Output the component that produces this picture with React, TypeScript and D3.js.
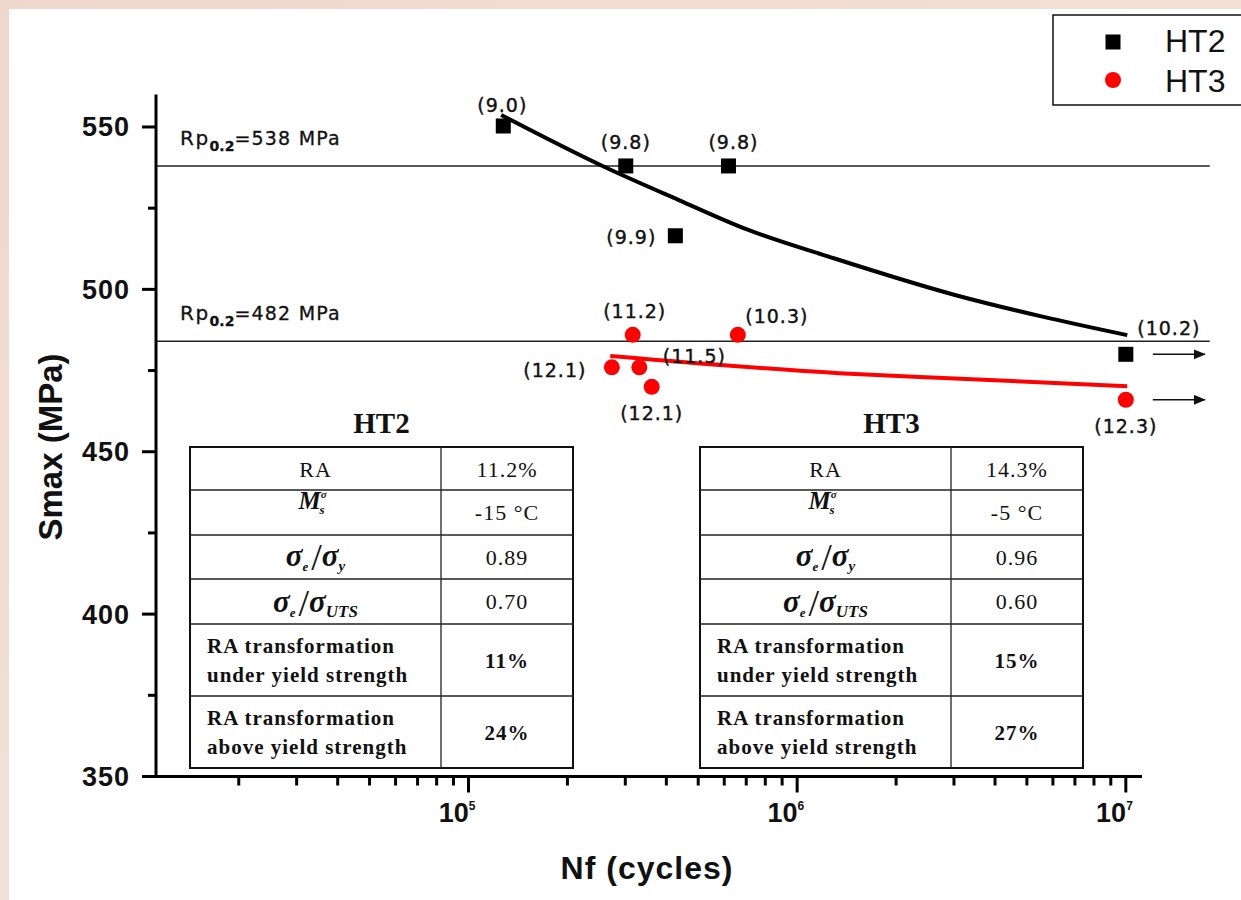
import React from 'react';
import * as d3 from 'd3';

const W = 1241;
const H = 900;

// HT2 test points (Nf, Smax) and their labels
const ht2Cycles = [1.276e5, 3.01e5, 6.18e5, 4.26e5, 1.0e7];
const ht2Stress = [550.3, 538, 538, 516.5, 480];
const ht2Labels = ['(9.0)', '(9.8)', '(9.8)', '(9.9)', '(10.2)'];

// HT3 test points
const ht3Cycles = [3.16e5, 6.6e5, 2.73e5, 3.31e5, 3.61e5, 1.0e7];
const ht3Stress = [486, 486, 476, 476, 470, 466];
const ht3Labels = ['(11.2)', '(10.3)', '(12.1)', '(11.5)', '(12.1)', '(12.3)'];

// fitted curves
const ht2FitCycles = [1.257e5, 2.605e5, 4.365e5, 7.1e5, 1.3e6, 3.04e6, 5.58e6, 1.01e7];
const ht2FitStress = [553.7, 537.6, 527.5, 518.3, 509.5, 498.2, 491.6, 485.9];
const ht3FitCycles = [2.7e5, 1.34e6, 2.9e6, 1.01e7];
const ht3FitStress = [479.5, 474.2, 472.6, 470.2];

// yield strength lines
const yieldStress = [538, 484];
const yieldLabels = ['=538 MPa', '=482 MPa'];

// axes
const yTicks = [350, 400, 450, 500, 550];
const yMinorTicks = [375, 425, 475, 525];
const xTicks = [1e5, 1e6, 1e7];
const xTickExp = ['5', '6', '7'];
const runoutCycles = 1e7;

// tables
const tableRowLabels = ['RA', 'Ms', 'se/sy', 'se/sUTS', 'RA transformation|under yield strength', 'RA transformation|above yield strength'];
const ht2TableValues = ['11.2%', '-15 °C', '0.89', '0.70', '11%', '24%'];
const ht3TableValues = ['14.3%', '-5 °C', '0.96', '0.60', '15%', '27%'];

// label offsets (px) from each point
const ht2LabelOffsets = [[-1, -21], [0, -24], [5, -24], [-44, 1], [43, -26]];
const ht3LabelOffsets = [[2, -24], [39, -19], [-57, 3], [55, -11], [0, 26], [0, 26]];

const sans = "'Liberation Sans', Arial, Helvetica, sans-serif";
const narrow = "'Liberation Sans Narrow', 'Arial Narrow', 'Liberation Sans', Arial, sans-serif";
const verdana = "'DejaVu Sans', Verdana, sans-serif";
const serif = "'Liberation Serif', 'Times New Roman', Times, serif";

const x = d3.scaleLog().domain([1.12e4, 1.12e7]).range([156, 1142]);
const y = d3.scaleLinear().domain([350, 560]).range([776.5, 94.5]);

const rowHeights = [43, 45, 44, 45, 72, 72];
const colWidths = [251, 132];

const Ratio = ({ cx, by, sub }: { cx: number; by: number; sub: string }) => (
  <text x={cx} y={by} textAnchor="middle" fontFamily={serif} fill="#111">
    <tspan fontSize={31} fontStyle="italic" fontWeight="bold">σ</tspan>
    <tspan fontSize={13} fontStyle="italic" fontWeight="bold" dy={5}>e</tspan>
    <tspan fontSize={38} dy={-1} dx={3}>/</tspan>
    <tspan fontSize={31} fontStyle="italic" fontWeight="bold" dy={-4}>σ</tspan>
    <tspan fontSize={sub.length > 1 ? 17 : 15} fontStyle="italic" fontWeight="bold" dy={5}>{sub}</tspan>
  </text>
);

const PropTable = ({ left, top, title, values }: { left: number; top: number; title: string; values: string[] }) => {
  const tops = rowHeights.reduce((acc, h) => [...acc, acc[acc.length - 1] + h], [top]);
  const width = colWidths[0] + colWidths[1];
  const total = tops[tops.length - 1] - top;
  const cx0 = left + colWidths[0] / 2;
  const cx1 = left + colWidths[0] + colWidths[1] / 2;
  return (
    <g>
      <text x={left + width / 2} y={top - 14} textAnchor="middle" fontFamily={serif} fontWeight="bold" fontSize={29} fill="#111">{title}</text>
      <rect x={left} y={top} width={width} height={total} fill="#fff" stroke="#111" strokeWidth={2} />
      {tops.slice(1, -1).map((t, i) => (
        <line key={i} x1={left} x2={left + width} y1={t} y2={t} stroke="#222" strokeWidth={1.3} />
      ))}
      <line x1={left + colWidths[0]} x2={left + colWidths[0]} y1={top} y2={top + total} stroke="#222" strokeWidth={1.3} />
      {tableRowLabels.map((lab, i) => {
        const t = tops[i];
        const bold = i >= 4;
        let cell;
        if (i === 0) {
          cell = <text x={cx0} y={t + 30} textAnchor="middle" fontFamily={serif} fontSize={22} letterSpacing={1} fill="#111">{lab}</text>;
        } else if (i === 1) {
          cell = (
            <text x={cx0 - 3} y={t + 19} fontFamily={serif} fill="#111" textAnchor="middle">
              <tspan fontSize={25} fontStyle="italic" fontWeight="bold">M</tspan>
              <tspan fontSize={11} fontStyle="italic" fontWeight="bold" dy={-11}>σ</tspan>
              <tspan fontSize={13} fontStyle="italic" fontWeight="bold" dx={-7} dy={16}>s</tspan>
            </text>
          );
        } else if (i === 2) {
          cell = <Ratio cx={cx0} by={t + 31} sub="y" />;
        } else if (i === 3) {
          cell = <Ratio cx={cx0} by={t + 33} sub="UTS" />;
        } else {
          const [l1, l2] = lab.split('|');
          cell = (
            <text fontFamily={serif} fontSize={21} fontWeight="bold" letterSpacing={1} fill="#111">
              <tspan x={left + 17} y={t + 29}>{l1}</tspan>
              <tspan x={left + 17} y={t + 57.5}>{l2}</tspan>
            </text>
          );
        }
        const vy = i < 4 ? t + 30 : t + 44;
        return (
          <g key={i}>
            {cell}
            <text x={cx1} y={vy} textAnchor="middle" fontFamily={serif} fontSize={bold ? 21 : 22}
              fontWeight={bold ? 'bold' : 'normal'} letterSpacing={1} fill="#111">{values[i]}</text>
          </g>
        );
      })}
    </g>
  );
};

const App = () => {
  const ht2Fit = d3.line<number>()
    .x((d) => x(d))
    .y((_, i) => y(ht2FitStress[i]))
    .curve(d3.curveMonotoneX)(ht2FitCycles);
  const ht3Fit = d3.line<number>()
    .x((d) => x(d))
    .y((_, i) => y(ht3FitStress[i]))
    .curve(d3.curveMonotoneX)(ht3FitCycles);

  const minorX = x.ticks().filter((v) => Math.abs(Math.log10(v) - Math.round(Math.log10(v))) > 1e-6);
  const [x0, x1] = x.range();
  const [yb, yt] = y.range();
  const lineEnd = x(1.8e7);

  const arrowsAt = [
    ...ht2Cycles.map((c, i) => (c >= runoutCycles ? ht2Stress[i] : null)),
    ...ht3Cycles.map((c, i) => (c >= runoutCycles ? ht3Stress[i] : null)),
  ].filter((v) => v !== null) as number[];

  const labelStyle = {
    textAnchor: 'middle' as const,
    dominantBaseline: 'central' as const,
    fontFamily: verdana,
    fontSize: 19,
    letterSpacing: 1,
    fill: '#111',
    stroke: '#111',
    strokeWidth: 0.4,
  };

  return (
    <svg width={W} height={H} viewBox={`0 0 ${W} ${H}`} style={{ position: 'absolute', left: 0, top: 0, display: 'block' }}>
      <defs>
        <marker id="arr" viewBox="0 0 12 10" refX={11} refY={5} markerWidth={12} markerHeight={10} markerUnits="userSpaceOnUse" orient="auto">
          <path d="M0,0 L12,5 L0,10 Z" fill="#111" />
        </marker>
        <linearGradient id="bg" x1="0" y1="0" x2="1" y2="1">
          <stop offset="0" stopColor="#efd8cb" />
          <stop offset="0.5" stopColor="#f2e0d6" />
          <stop offset="1" stopColor="#ecd4c6" />
        </linearGradient>
      </defs>
      <rect x={0} y={0} width={W} height={H} fill="url(#bg)" />
      <rect x={9} y={9} width={W - 9} height={H - 9} fill="#fff" />

      {/* yield strength lines */}
      {yieldStress.map((s, i) => (
        <g key={i}>
          <line x1={x0} x2={lineEnd} y1={y(s)} y2={y(s)} stroke="#222" strokeWidth={1.5} />
          <text x={180} y={y(s) - 21} fontFamily={verdana} fill="#111" stroke="#111" strokeWidth={0.3}>
            <tspan fontSize={20} letterSpacing={1.5}>Rp</tspan>
            <tspan fontSize={14} fontWeight="bold" dy={6}>0.2</tspan>
            <tspan fontSize={19} letterSpacing={1.2} dy={-6}>{yieldLabels[i]}</tspan>
          </text>
        </g>
      ))}

      {/* fits */}
      <path d={ht2Fit ?? ''} fill="none" stroke="#000" strokeWidth={4} />
      <path d={ht3Fit ?? ''} fill="none" stroke="#f00" strokeWidth={4} />

      {/* run-out arrows */}
      {arrowsAt.map((s, i) => (
        <line key={i} x1={x(runoutCycles) + 27} x2={x(runoutCycles) + 79} y1={y(s)} y2={y(s)} stroke="#111" strokeWidth={1.6} markerEnd="url(#arr)" />
      ))}

      {/* points */}
      {ht2Cycles.map((c, i) => (
        <rect key={i} x={x(c) - 7.5} y={y(ht2Stress[i]) - 7.5} width={15} height={15} fill="#000" />
      ))}
      {ht3Cycles.map((c, i) => (
        <circle key={i} cx={x(c)} cy={y(ht3Stress[i])} r={8} fill="#f00" />
      ))}
      {ht2Labels.map((l, i) => (
        <text key={i} x={x(ht2Cycles[i]) + ht2LabelOffsets[i][0]} y={y(ht2Stress[i]) + ht2LabelOffsets[i][1]} {...labelStyle}>{l}</text>
      ))}
      {ht3Labels.map((l, i) => (
        <text key={i} x={x(ht3Cycles[i]) + ht3LabelOffsets[i][0]} y={y(ht3Stress[i]) + ht3LabelOffsets[i][1]} {...labelStyle}>{l}</text>
      ))}

      {/* tables */}
      <PropTable left={190} top={447} title="HT2" values={ht2TableValues} />
      <PropTable left={700} top={447} title="HT3" values={ht3TableValues} />

      {/* y axis */}
      <line x1={x0} x2={x0} y1={yt} y2={yb + 1.5} stroke="#000" strokeWidth={3} />
      {yTicks.map((t) => (
        <g key={t}>
          <line x1={x0 - 14} x2={x0} y1={y(t)} y2={y(t)} stroke="#000" strokeWidth={3} />
          <text x={130} y={y(t) + 9.5} textAnchor="end" fontFamily={sans} fontWeight="bold" fontSize={27} letterSpacing={1} fill="#111">{t}</text>
        </g>
      ))}
      {yMinorTicks.map((t) => (
        <line key={t} x1={x0 - 8} x2={x0} y1={y(t)} y2={y(t)} stroke="#000" strokeWidth={3} />
      ))}
      <text transform={`translate(62,447) rotate(-90)`} textAnchor="middle" fontFamily={sans} fontWeight="bold" fontSize={33} fill="#111">Smax (MPa)</text>

      {/* x axis */}
      <line x1={x0 - 1.5} x2={x1} y1={yb} y2={yb} stroke="#000" strokeWidth={3} />
      {xTicks.map((t, i) => (
        <g key={t}>
          <line x1={x(t)} x2={x(t)} y1={yb} y2={yb + 16} stroke="#000" strokeWidth={3} />
          <text x={x(t) + 7} y={822} textAnchor="end" fontFamily={narrow} fontWeight="bold" fontSize={27} fill="#111">
            10<tspan fontSize={12} dy={-12}>{xTickExp[i]}</tspan>
          </text>
        </g>
      ))}
      {minorX.map((t) => (
        <line key={t} x1={x(t)} x2={x(t)} y1={yb} y2={yb + 9} stroke="#000" strokeWidth={3} />
      ))}
      <text x={647} y={879} textAnchor="middle" fontFamily={sans} fontWeight="bold" fontSize={32} letterSpacing={1} fill="#111">Nf (cycles)</text>

      {/* legend */}
      <rect x={1053} y={15} width={200} height={90} fill="#fff" stroke="#111" strokeWidth={1.5} />
      <rect x={1105.5} y={34.5} width={15} height={15} fill="#000" />
      <circle cx={1113} cy={80} r={8} fill="#f00" />
      <text x={1165} y={52} fontFamily={sans} fontSize={32} fill="#111">HT2</text>
      <text x={1165} y={92} fontFamily={sans} fontSize={32} fill="#111">HT3</text>
    </svg>
  );
};

export default App;
